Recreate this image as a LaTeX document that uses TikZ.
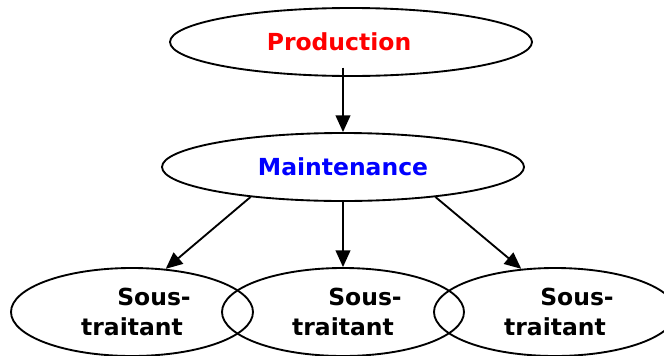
\documentclass[tikz,border=0pt]{standalone}
\usepackage{fontspec}
\setmainfont{DejaVu Sans}
\usetikzlibrary{arrows.meta,shapes.geometric}
\begin{document}
\begin{tikzpicture}[x=0.75pt,y=0.75pt,line width=1.4pt,
        >={Triangle[length=12.5pt,width=11pt]},
        bubble/.style={draw,ellipse,inner sep=0pt,align=center,
            font=\bfseries\fontsize{17.6}{22.5}\selectfont},
        topbox/.style={bubble,minimum width=271.5pt,minimum height=51pt},
        subbox/.style={bubble,minimum width=181.5pt,minimum height=66pt}]
            \useasboundingbox (0,0) rectangle (664,355);

            \node[topbox,label={[font=\bfseries\fontsize{17.6}{22.5}\selectfont,text=red,xshift=-9pt]center:Production}] (prod) at (351,313) {};
            \node[topbox,text=blue] (maint) at (343,188) {Maintenance};
            \node[subbox] (st1) at (132,43) {\hspace*{33pt}Sous-\\traitant};
            \node[subbox] (st2) at (343,43) {\hspace*{33pt}Sous-\\traitant};
            \node[subbox] (st3) at (555,43) {\hspace*{33pt}Sous-\\traitant};

            \draw[->,shorten <=-7pt] (prod.south -| maint.north) to (maint.north);
            \draw[->] (maint.198) to (st1.52);
            \draw[->] (maint.south) to (st2.north);
            \draw[->] (maint.-18) to (st3.128);
        \end{tikzpicture}
\end{document}
